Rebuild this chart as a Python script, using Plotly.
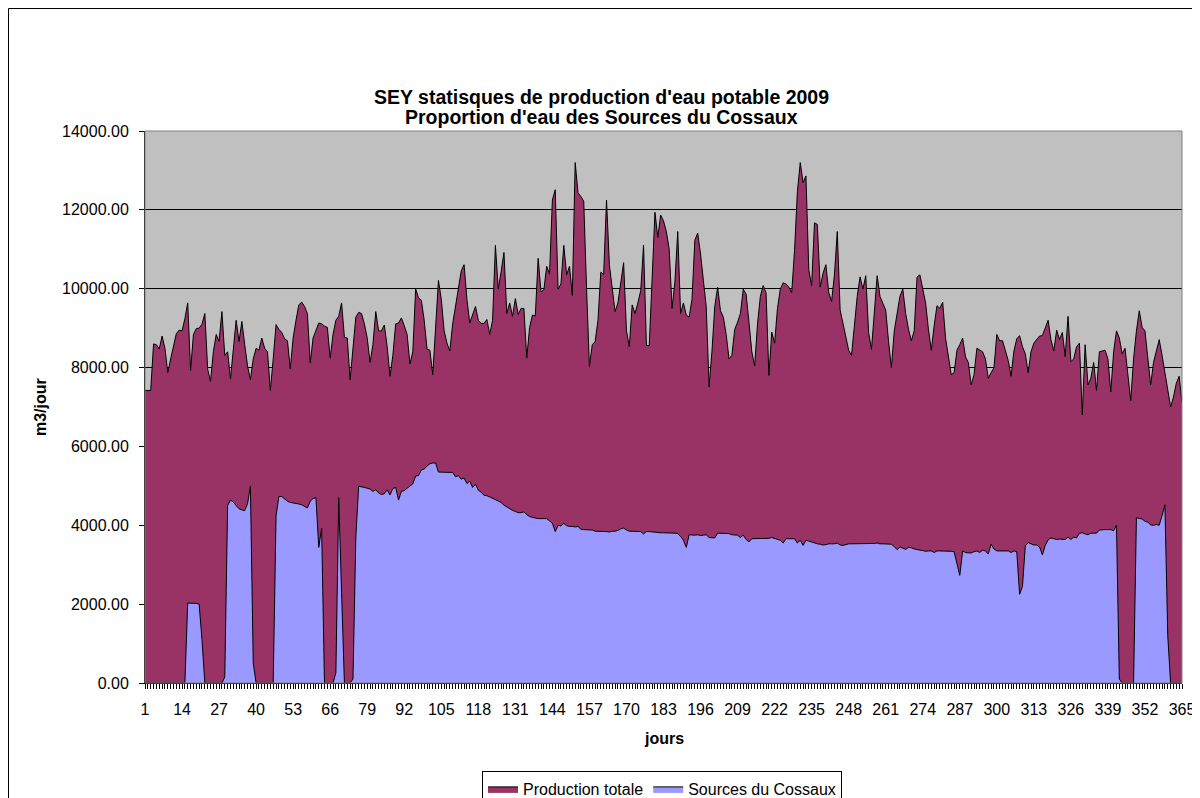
import plotly.graph_objects as go

days = list(range(1, 366))

production_totale = [
    7420, 7420, 7420, 8600, 8580, 8470, 8800, 8490, 7870, 8220,
    8580, 8860, 8950, 8930, 9240, 9640, 7930, 8840, 8990, 9000,
    9100, 9370, 7960, 7650, 8400, 8840, 8660, 9420, 8310, 8400,
    7710, 8490, 9200, 8660, 9170, 8580, 8040, 7690, 8220, 8490,
    8440, 8750, 8490, 8400, 7420, 8220, 9090, 8970, 8890, 8730,
    8680, 7970, 8750, 9200, 9590, 9660, 9550, 9370, 8120, 8750,
    8970, 9130, 9110, 9050, 9020, 8240, 8840, 9200, 9300, 9640,
    8770, 8750, 7690, 8580, 9280, 9400, 9370, 9110, 8750, 8130,
    8580, 9420, 8930, 8930, 9080, 8530, 7780, 8310, 9110, 9130,
    9260, 9060, 8840, 8090, 8400, 9990, 9770, 9710, 9200, 8470,
    8440, 7820, 9110, 10210, 9730, 8930, 8620, 8420, 9110, 9600,
    10080, 10450, 10610, 9730, 9130, 9370, 9550, 9200, 9120, 9120,
    9220, 8840, 9200, 11100, 9990, 10430, 10920, 9370, 9640, 9300,
    9750, 9350, 9500, 9500, 8240, 9020, 9330, 9310, 10770, 9920,
    9970, 10570, 10370, 12250, 12510, 9990, 10120, 11100, 10350, 10570,
    9830, 13200, 12430, 12340, 12220, 9990, 8030, 8580, 8660, 9200,
    10420, 10360, 12250, 10610, 10080, 9420, 9640, 10120, 10660, 8930,
    8530, 9590, 9370, 9640, 9950, 11100, 8560, 8560, 10170, 11940,
    11300, 11870, 11720, 11450, 11000, 9500, 10170, 11450, 9370, 9640,
    9330, 9280, 9730, 11230, 11410, 10880, 10210, 9550, 7510, 8400,
    9550, 10040, 9440, 9280, 8840, 8220, 8310, 8970, 9150, 9370,
    9990, 9860, 9150, 8400, 8040, 9110, 9810, 10080, 9900, 7800,
    8900, 8620, 9500, 9990, 10150, 10120, 10040, 9900, 10970, 12470,
    13200, 12690, 12860, 10480, 10080, 11670, 11630, 10040, 10390, 10610,
    9900, 9680, 10350, 11450, 9460, 9110, 8710, 8440, 8310, 9020,
    9810, 10300, 9990, 10330, 8890, 8460, 9370, 10330, 9800, 9640,
    9460, 8660, 8000, 8930, 9330, 9810, 9990, 9370, 8970, 8680,
    8930, 10300, 10350, 9990, 9640, 8970, 8440, 9060, 9570, 9500,
    9660, 8750, 8310, 7820, 7870, 8440, 8580, 8750, 8270, 8130,
    7560, 7820, 8490, 8440, 8400, 8220, 7730, 7870, 8000, 8840,
    8680, 8680, 8440, 8180, 7780, 8420, 8730, 8810, 8530, 8350,
    7870, 8400, 8620, 8710, 8800, 8810, 9000, 9200, 8710, 8420,
    8950, 8710, 8890, 8280, 9300, 8150, 8220, 8530, 8620, 6800,
    8580, 7560, 7730, 8130, 7420, 8400, 8420, 8440, 8220, 7380,
    8400, 8930, 8750, 8350, 8490, 7780, 7160, 8220, 8930, 9440,
    9020, 8930, 8220, 7560, 8130, 8400, 8710, 8310, 7870, 7340,
    7000, 7250, 7600, 7780, 7100,
]

sources_cossaux = [
    0, 0, 0, 0, 0, 0, 0, 0, 0, 0,
    0, 0, 0, 0, 0, 2030, 2020, 2020, 2020, 2000,
    1100, 0, 0, 0, 0, 0, 0, 0, 150, 4500,
    4640, 4590, 4500, 4420, 4390, 4370, 4550, 4990, 500, 0,
    0, 0, 0, 0, 0, 0, 4240, 4730, 4730, 4660,
    4610, 4580, 4570, 4550, 4540, 4520, 4490, 4440, 4610, 4680,
    4700, 3440, 3930, 0, 0, 0, 0, 260, 4700, 2300,
    0, 0, 0, 100, 3700, 4990, 4980, 4960, 4940, 4920,
    4860, 4900, 4820, 4780, 4800, 4900, 4770, 4930, 4960, 4640,
    4860, 4880, 4940, 5000, 5050, 5250, 5260, 5400, 5430, 5500,
    5560, 5580, 5580, 5350, 5350, 5340, 5340, 5340, 5340, 5230,
    5260, 5170, 5200, 5060, 5120, 4960, 5040, 4890, 4840, 4760,
    4750, 4720, 4680, 4650, 4600, 4580, 4510, 4460, 4420, 4380,
    4350, 4320, 4320, 4340, 4270, 4220, 4200, 4180, 4170, 4170,
    4170, 4170, 4110, 4050, 3840, 4000, 3980, 4050, 3990, 3970,
    3970, 3960, 3970, 3900, 3890, 3890, 3890, 3880, 3850, 3850,
    3850, 3840, 3840, 3830, 3850, 3850, 3870, 3910, 3930, 3880,
    3850, 3850, 3850, 3850, 3840, 3780, 3840, 3840, 3830, 3820,
    3820, 3810, 3810, 3810, 3810, 3800, 3800, 3790, 3720, 3620,
    3440, 3760, 3750, 3750, 3760, 3740, 3750, 3760, 3690, 3680,
    3680, 3800, 3800, 3800, 3800, 3790, 3760, 3750, 3750, 3690,
    3750, 3640, 3580, 3660, 3660, 3660, 3660, 3660, 3660, 3670,
    3690, 3660, 3650, 3620, 3550, 3660, 3660, 3660, 3660, 3550,
    3620, 3490, 3620, 3600, 3570, 3540, 3530, 3520, 3500, 3510,
    3530, 3530, 3530, 3550, 3500, 3490, 3520, 3530, 3530, 3530,
    3530, 3530, 3530, 3530, 3530, 3530, 3540, 3550, 3530, 3530,
    3530, 3530, 3520, 3460, 3380, 3450, 3410, 3390, 3440, 3430,
    3400, 3380, 3370, 3360, 3340, 3350, 3350, 3310, 3350, 3350,
    3350, 3350, 3340, 3340, 3330, 3020, 2730, 3350, 3310, 3300,
    3300, 3330, 3350, 3310, 3370, 3350, 3270, 3520, 3400, 3350,
    3350, 3350, 3350, 3350, 3310, 3350, 3330, 2250, 2450, 3480,
    3560, 3530, 3500, 3500, 3450, 3250, 3490, 3630, 3680, 3660,
    3640, 3650, 3640, 3640, 3700, 3640, 3700, 3680, 3800, 3810,
    3780, 3760, 3800, 3800, 3800, 3880, 3890, 3890, 3890, 3890,
    3860, 4000, 100, 0, 0, 0, 0, 0, 4190, 4170,
    4160, 4100, 4080, 4010, 4000, 4020, 4000, 4240, 4520, 1200,
    0, 0, 0, 0, 0,
]

x_tick_days = list(range(1, 366, 13))
x_tick_labels = [str(d) for d in x_tick_days]

title_line_1 = "SEY statisques de production d'eau potable 2009"
title_line_2 = "Proportion d'eau des Sources du Cossaux"

FONT = "Arial, Liberation Sans, sans-serif"

fig = go.Figure()
fig.add_trace(go.Scatter(
    x=days, y=production_totale, name="Production totale",
    mode="lines", fill="tozeroy", fillcolor="#993366",
    line=dict(color="black", width=1),
))
fig.add_trace(go.Scatter(
    x=days, y=sources_cossaux, name="Sources du Cossaux",
    mode="lines", fill="tozeroy", fillcolor="#9999FF",
    line=dict(color="black", width=1),
))

# page is rendered with an 8px body offset; figure coords = page coords - 8
OFF = 8
W, H = 1192, 790
PL, PR, PT, PB = 145, 1182, 131, 683  # plot box in page pixels
L = PL - OFF
R = W - (PR - OFF)
T = PT - OFF
B = H - (PB - OFF)
pw = W - L - R
ph = H - T - B


def px(page_x):
    return (page_x - OFF - L) / pw


def py(page_y):
    return (H - B - (page_y - OFF)) / ph


fig.update_layout(
    width=W, height=H,
    paper_bgcolor="white", plot_bgcolor="#C0C0C0",
    margin=dict(l=L, r=R, t=T, b=B, autoexpand=False),
    font=dict(family=FONT, color="black", size=16),
    xaxis=dict(
        range=[1, 365], tickmode="array", tickvals=x_tick_days, ticktext=x_tick_labels,
        ticks="outside", ticklen=5, tickcolor="black", tickwidth=1,
        ticklabelstandoff=7,
        showline=True, linecolor="black", linewidth=1,
        showgrid=False, zeroline=False,
        tickfont=dict(size=16),
        minor=dict(tickmode="linear", tick0=1, dtick=1, ticks="outside",
                   ticklen=5, tickcolor="black", tickwidth=1, showgrid=False),
    ),
    yaxis=dict(
        range=[0, 14000], dtick=2000, tick0=0, tickformat=".2f",
        ticks="outside", ticklen=5, tickcolor="black",
        ticklabelstandoff=7,
        showline=True, linecolor="black", linewidth=1,
        showgrid=True, gridcolor="black", gridwidth=1, zeroline=False,
        tickfont=dict(size=16),
    ),
    legend=dict(
        orientation="h", x=px(662), xanchor="center",
        y=py(771), yanchor="top",
        bordercolor="black", borderwidth=1, bgcolor="white",
        font=dict(size=16), itemwidth=30, traceorder="normal",
    ),
    showlegend=True,
    annotations=[
        dict(text="<b>" + title_line_1 + "</b>", xref="paper", yref="paper",
             x=px(601), y=py(97), showarrow=False,
             xanchor="center", yanchor="middle", font=dict(size=19.5)),
        dict(text="<b>" + title_line_2 + "</b>", xref="paper", yref="paper",
             x=px(601), y=py(117), showarrow=False,
             xanchor="center", yanchor="middle", font=dict(size=19.5)),
        dict(text="<b>m3/jour</b>", xref="paper", yref="paper",
             x=px(40), y=0.5, textangle=-90, showarrow=False,
             xanchor="center", yanchor="middle", font=dict(size=16)),
        dict(text="<b>jours</b>", xref="paper", yref="paper",
             x=0.5, y=py(738), showarrow=False,
             xanchor="center", yanchor="middle", font=dict(size=16)),
    ],
    shapes=[
        dict(type="rect", xref="paper", yref="paper", x0=0, x1=1, y0=0, y1=1,
             line=dict(color="#808080", width=1), fillcolor="rgba(0,0,0,0)", layer="above"),
        dict(type="rect", xref="paper", yref="paper",
             x0=px(8.5), x1=px(1197), y0=py(830), y1=py(8.5),
             line=dict(color="black", width=1), fillcolor="rgba(0,0,0,0)"),
    ],
)

fig.write_html("out.html")
